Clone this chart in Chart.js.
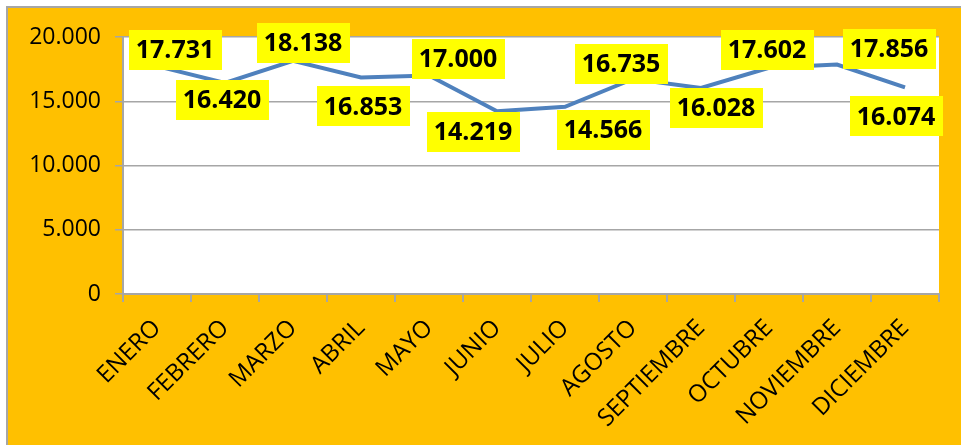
<!DOCTYPE html>
<html>
<head>
<meta charset="utf-8">
<script src="https://cdn.jsdelivr.net/npm/chart.js@4.4.1/dist/chart.umd.min.js"></script>
<style>
  html, body { margin:0; padding:0; background:#fff; overflow:hidden; }
  #frame {
    position:absolute; left:6px; top:6px; width:960px; height:445px;
    border:2px solid #a6a6a6; background:#FFC000;
  }
  #wrap { position:absolute; left:0; top:0; width:953px; height:437px; }
</style>
</head>
<body>
<div id="frame"><div id="wrap"><canvas id="c"></canvas></div></div>
<script>
const meses   = ['ENERO','FEBRERO','MARZO','ABRIL','MAYO','JUNIO','JULIO','AGOSTO','SEPTIEMBRE','OCTUBRE','NOVIEMBRE','DICIEMBRE'];
const valores = [17731, 16420, 18138, 16853, 17000, 14219, 14566, 16735, 16028, 17602, 17856, 16074];
const yTicks  = [0, 5000, 10000, 15000, 20000];

// where each yellow label sits relative to its point (px)
const labelOffsets = [[18,-16],[-3,17],[10,-18],[2,29],[29,-17],[-24,21],[38,23],[-12,-15],[15,20],[-2,-18],[52,-16],[-9,29]];

const fmt = v => String(v).replace(/\B(?=(\d{3})+(?!\d))/g, '.');

const plotBg = {
  id: 'plotBg',
  beforeDraw(chart) {
    const { ctx, chartArea: a } = chart;
    ctx.save();
    ctx.fillStyle = '#ffffff';
    ctx.fillRect(a.left, a.top, a.right - a.left, a.bottom - a.top);
    ctx.restore();
  }
};

const boxLabels = {
  id: 'boxLabels',
  afterDatasetsDraw(chart) {
    const ctx = chart.ctx;
    const meta = chart.getDatasetMeta(0);
    ctx.save();
    ctx.font = 'bold 25px "Open Sans", sans-serif';
    ctx.textAlign = 'center';
    ctx.textBaseline = 'middle';
    meta.data.forEach((pt, i) => {
      const txt = fmt(valores[i]);
      const [dx, dy] = labelOffsets[i];
      const cx = pt.x + dx, cy = pt.y + dy;
      const w = ctx.measureText(txt).width + 14, h = 40;
      ctx.fillStyle = '#FFFF00';
      ctx.fillRect(Math.round(cx - w/2), Math.round(cy - h/2), Math.round(w), h);
      ctx.fillStyle = '#000';
      ctx.fillText(txt, cx, cy + 1);
    });
    ctx.restore();
  }
};

new Chart(document.getElementById('c'), {
  type: 'line',
  data: {
    labels: meses,
    datasets: [{
      data: valores,
      borderColor: '#4F81BD',
      borderWidth: 4,
      pointRadius: 0,
      tension: 0,
      fill: false
    }]
  },
  options: {
    responsive: true, maintainAspectRatio: false, animation: false,
    layout: { padding: { top: 29, right: 22, left: 0, bottom: 0 } },
    plugins: { legend: { display:false }, tooltip: { enabled:false } },
    scales: {
      x: {
        offset: true,
        grid: { offset: true, drawOnChartArea: false, drawTicks: true, tickLength: 8, color: '#a6a6a6', lineWidth: 2 },
        border: { color: '#a6a6a6', width: 2 },
        ticks: { minRotation: 45, maxRotation: 45, autoSkip: false, padding: 12, color: '#000',
                 font: { family: '"Open Sans", sans-serif', size: 24 } },
        afterFit: s => { s.height = 151; }
      },
      y: {
        min: 0, max: 20000,
        afterBuildTicks: s => { s.ticks = yTicks.map(v => ({ value: v })); },
        grid: { color: '#a6a6a6', lineWidth: 1.5, tickLength: 8 },
        border: { color: '#a6a6a6', width: 2 },
        ticks: { padding: 14, color: '#000', callback: v => fmt(v),
                 font: { family: '"Open Sans", sans-serif', size: 23 } },
        afterFit: s => { s.width = 115; }
      }
    }
  },
  plugins: [plotBg, boxLabels]
});
</script>
</body>
</html>
